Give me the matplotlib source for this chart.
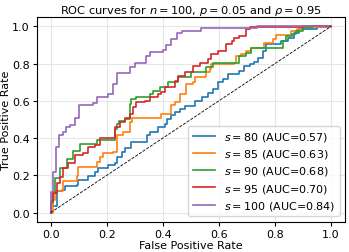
import matplotlib
matplotlib.use("Agg")
import matplotlib.pyplot as plt

# ROC step curves: fpr = x where the curve jumps, tpr = level after the jump
fpr_80 = [0, 0.002, 0.022, 0.04, 0.052, 0.093, 0.099, 0.134, 0.158, 0.17, 0.205, 0.229, 0.235, 0.253, 0.265, 0.288,
          0.343, 0.353, 0.383, 0.407, 0.413, 0.43, 0.442, 0.46, 0.478, 0.513, 0.539, 0.56, 0.578, 0.596, 0.614, 0.632,
          0.673, 0.69, 0.709, 0.725, 0.738, 0.757, 0.768, 0.82, 0.845, 0.868, 0.886, 0.951, 1.0]
tpr_80 = [0, 0.034, 0.114, 0.123, 0.14, 0.15, 0.176, 0.194, 0.22, 0.238, 0.256, 0.265, 0.30, 0.327, 0.345, 0.38,
          0.415, 0.433, 0.46, 0.478, 0.504, 0.522, 0.54, 0.555, 0.57, 0.60, 0.62, 0.64, 0.664, 0.699, 0.717, 0.744,
          0.761, 0.785, 0.796, 0.81, 0.832, 0.868, 0.903, 0.92, 0.938, 0.965, 0.983, 0.995, 1.0]

fpr_85 = [0, 0.008, 0.016, 0.045, 0.093, 0.099, 0.164, 0.176, 0.188, 0.223, 0.235, 0.259, 0.282, 0.29, 0.395,
          0.43, 0.442, 0.46, 0.484, 0.508, 0.513, 0.555, 0.567, 0.573, 0.655, 0.66, 0.68, 0.697, 0.715, 0.762,
          0.791, 0.803, 0.857, 0.88, 0.892, 1.0]
tpr_85 = [0, 0.07, 0.114, 0.167, 0.194, 0.247, 0.273, 0.30, 0.318, 0.327, 0.415, 0.433, 0.486, 0.51, 0.53,
          0.575, 0.593, 0.637, 0.69, 0.699, 0.726, 0.755, 0.77, 0.796, 0.805, 0.84, 0.85, 0.868, 0.885, 0.912,
          0.93, 0.952, 0.974, 0.983, 0.995, 1.0]

fpr_90 = [0, 0.002, 0.008, 0.016, 0.034, 0.058, 0.081, 0.105, 0.164, 0.229, 0.235, 0.245, 0.265, 0.282, 0.288,
          0.306, 0.353, 0.365, 0.389, 0.42, 0.454, 0.5, 0.555, 0.578, 0.673, 0.697, 0.715, 0.828, 0.84, 0.862,
          0.874, 0.898, 0.93, 1.0]
tpr_90 = [0, 0.05, 0.105, 0.187, 0.24, 0.29, 0.33, 0.37, 0.39, 0.451, 0.478, 0.49, 0.50, 0.584, 0.61,
          0.62, 0.637, 0.655, 0.672, 0.699, 0.726, 0.752, 0.779, 0.805, 0.84, 0.858, 0.885, 0.92, 0.947, 0.956,
          0.974, 0.99, 1.0, 1.0]

fpr_95 = [0, 0, 0.01, 0.022, 0.034, 0.045, 0.063, 0.087, 0.117, 0.134, 0.158, 0.176, 0.229, 0.247, 0.265, 0.282,
          0.294, 0.306, 0.336, 0.353, 0.383, 0.395, 0.407, 0.442, 0.454, 0.478, 0.508, 0.531, 0.56, 0.573, 0.596,
          0.626, 0.645, 0.655, 0.673, 0.697, 0.709, 0.9, 1.0]
tpr_95 = [0, 0.06, 0.105, 0.16, 0.19, 0.24, 0.265, 0.31, 0.32, 0.353, 0.365, 0.40, 0.46, 0.486, 0.505, 0.53,
          0.566, 0.593, 0.60, 0.62, 0.637, 0.646, 0.672, 0.708, 0.734, 0.752, 0.788, 0.805, 0.823, 0.85, 0.868,
          0.903, 0.92, 0.935, 0.947, 0.983, 0.995, 1.0, 1.0]

fpr_100 = [0, 0, 0.008, 0.02, 0.028, 0.045, 0.054, 0.07, 0.085, 0.1, 0.15, 0.165, 0.205, 0.223, 0.237, 0.283,
           0.3, 0.34, 0.354, 0.4, 0.41, 0.43, 0.45, 0.468, 0.535, 0.735, 1.0]
tpr_100 = [0, 0.11, 0.22, 0.35, 0.415, 0.43, 0.46, 0.47, 0.51, 0.575, 0.59, 0.62, 0.635, 0.69, 0.75, 0.78,
           0.805, 0.84, 0.862, 0.875, 0.9, 0.93, 0.965, 0.975, 0.99, 1.0, 1.0]

s_values = [80, 85, 90, 95, 100]
auc_values = [0.57, 0.63, 0.68, 0.70, 0.84]
curves = [(fpr_80, tpr_80), (fpr_85, tpr_85), (fpr_90, tpr_90), (fpr_95, tpr_95), (fpr_100, tpr_100)]
colors = ["#1f77b4", "#ff7f0e", "#2ca02c", "#d62728", "#9467bd"]

fig = plt.figure(figsize=(3.49, 2.53), dpi=100)
ax = fig.add_axes([0.105, 0.119, 0.884, 0.81])

for (f, t), s, auc, c in zip(curves, s_values, auc_values, colors):
    ax.plot(f, t, drawstyle="steps-post", color=c, lw=1.2,
            label=f"$s = {s}$ (AUC={auc:.2f})")

ax.plot([0, 1], [0, 1], "k--", lw=0.6)

ax.set_title(r"ROC curves for $n = 100$, $p = 0.05$ and $\rho = 0.95$", fontsize=8.2, pad=3)
ax.set_xlabel("False Positive Rate", fontsize=8, labelpad=1)
ax.set_ylabel("True Positive Rate", fontsize=8, labelpad=1)
ax.tick_params(labelsize=8, length=3, pad=2)
ax.grid(True, color="#e6e6e6", lw=0.8)
ax.set_axisbelow(True)
ax.legend(loc="lower right", fontsize=8, handlelength=2.0, borderpad=0.4, labelspacing=0.38)

fig.savefig("out.png", dpi=100)
